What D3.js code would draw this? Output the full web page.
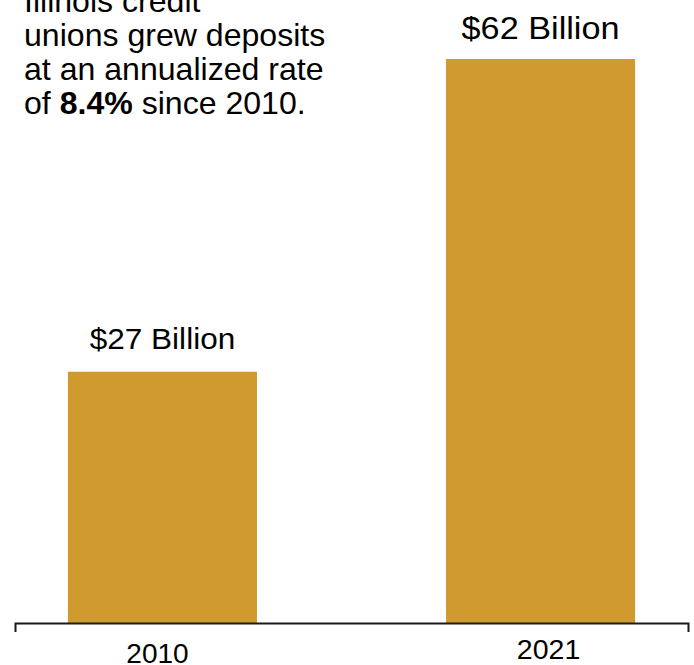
<!DOCTYPE html>
<html>
<head>
<meta charset="utf-8">
<script src="https://cdn.jsdelivr.net/npm/d3@7"></script>
<style>
  html, body { margin: 0; padding: 0; background: #fff; }
  svg { display: block; font-family: "Liberation Sans", Arial, sans-serif; }
</style>
</head>
<body>
<div id="chart"></div>
<script>
// data
const years = ["2010", "2021"];
const deposits = [27.4, 61.5];          // $ billions
const valueLabels = ["$27 Billion", "$62 Billion"];
const growthRate = 8.4;
const noteLines = ["Illinois credit", "unions grew deposits", "at an annualized rate"];

const width = 694, height = 665;
const barColor = "#d09a2e";
const sx = 1.07; // the picture is a little wide, stretch text to match

const svg = d3.select("#chart").append("svg")
  .attr("width", width)
  .attr("height", height);

const x = d3.scaleBand()
  .domain(years)
  .range([15, 688])
  .paddingInner(0.5)
  .paddingOuter(0.14);

const y = d3.scaleLinear()
  .domain([0, d3.max(deposits)])
  .range([623, 59]);

// bars
svg.append("g")
  .selectAll("rect")
  .data(years)
  .join("rect")
  .attr("x", d => x(d))
  .attr("y", (d, i) => y(deposits[i]))
  .attr("width", x.bandwidth())
  .attr("height", (d, i) => y(0) - y(deposits[i]))
  .attr("fill", barColor);

// value labels above bars
const labelSize = [29.5, 32];
const labelGap = [23, 20];
svg.append("g")
  .selectAll("text")
  .data(years)
  .join("text")
  .attr("transform", (d, i) => `translate(${x(d) + x.bandwidth() / 2},${y(deposits[i]) - labelGap[i]}) scale(${sx},1)`)
  .attr("text-anchor", "middle")
  .style("font-size", (d, i) => labelSize[i] + "px")
  .style("fill", "#000")
  .text((d, i) => valueLabels[i]);

// x axis: domain path with outer ticks pointing down
const axis = svg.append("g")
  .attr("transform", `translate(0,${y(0)})`)
  .call(d3.axisBottom(x).tickSizeInner(0).tickSizeOuter(9).tickPadding(0));

axis.select(".domain")
  .attr("stroke", "#1a1a1a")
  .attr("stroke-width", 2);

// [dx, baseline below axis, font size]
const tickNudge = { "2010": [-5, 40, 28], "2021": [8, 36, 28.5] };
axis.selectAll(".tick text")
  .attr("y", null).attr("dy", null)
  .attr("transform", d => `translate(${tickNudge[d][0]},${tickNudge[d][1]})`)
  .style("font-family", "\"Liberation Sans\", Arial, sans-serif")
  .style("font-size", d => tickNudge[d][2] + "px")
  .style("fill", "#000");

// note in the top left corner
const note = svg.append("g")
  .attr("transform", "translate(24,0) scale(1.035,1)")
  .style("font-size", "31px")
  .style("fill", "#000");

noteLines.forEach((line, i) => {
  note.append("text")
    .attr("y", 12 + i * 34)
    .text(line);
});

const last = note.append("text").attr("y", 12 + noteLines.length * 34);
last.append("tspan").text("of ");
last.append("tspan").style("font-weight", "bold").text(`${growthRate}%`);
last.append("tspan").text(" since 2010.");
</script>
</body>
</html>
